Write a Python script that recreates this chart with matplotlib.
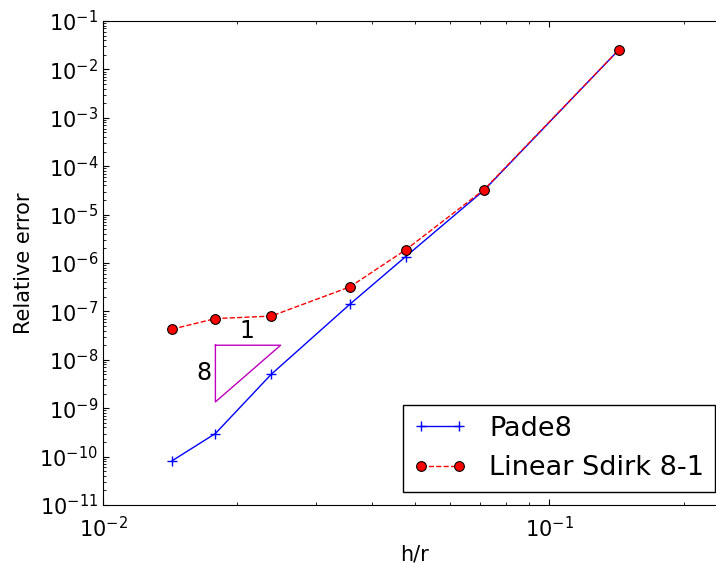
import numpy as np
import matplotlib
matplotlib.use("Agg")
import matplotlib.pyplot as plt
from matplotlib.ticker import LogLocator

# data
h_over_r = [1/70, 1/56, 1/42, 1/28, 1/21, 1/14, 1/7]
err_pade8 = [8.2e-11, 3.0e-10, 5.0e-9, 1.4e-7, 1.35e-6, 3.2e-5, 2.5e-2]
err_sdirk = [4.3e-8, 7.1e-8, 8.0e-8, 3.2e-7, 1.86e-6, 3.3e-5, 2.5e-2]

# slope triangle (order 8)
tri_x = [1/56, 0.025, 1/56, 1/56]
tri_y = [2e-8, 2e-8, 1.35e-9, 2e-8]

plt.rcParams['font.family'] = 'DejaVu Sans'
plt.rcParams['xtick.direction'] = 'in'
plt.rcParams['ytick.direction'] = 'in'
plt.rcParams['xtick.top'] = True
plt.rcParams['ytick.right'] = True
plt.rcParams['xtick.major.size'] = 4
plt.rcParams['ytick.major.size'] = 4
plt.rcParams['xtick.minor.size'] = 2
plt.rcParams['ytick.minor.size'] = 2

fig = plt.figure(figsize=(7.16, 5.63), dpi=100)
ax = fig.add_axes([103/716, 58/563, 624/716, 484/563])

ax.loglog(h_over_r, err_pade8, 'b-', marker='+', ms=7, mew=1, lw=1, label='Pade8')
ax.loglog(h_over_r, err_sdirk, 'r--', marker='o', ms=7, mfc='r', mec='k', mew=0.8,
          lw=1, label='Linear Sdirk 8-1')
ax.plot(tri_x, tri_y, color=(0.75, 0, 0.75), lw=1)
ax.text(0.021, 3.85e-8, '1', fontsize=17, ha='center', va='center')
ax.text(0.01685, 5.4e-9, '8', fontsize=17, ha='center', va='center')

ax.set_xlim(1e-2, 0.25)
ax.set_ylim(1e-11, 1e-1)
ax.yaxis.set_major_locator(LogLocator(base=10, numticks=20))
ax.yaxis.set_minor_locator(LogLocator(base=10, subs=np.arange(2, 10), numticks=20))
ax.set_xlabel('h/r', fontsize=15, labelpad=2)
ax.set_ylabel('Relative error', fontsize=15)
ax.tick_params(labelsize=15)
ax.tick_params(axis='x', pad=8)

leg = ax.legend(loc='lower right', fontsize=19.5, numpoints=2, fancybox=False,
                framealpha=1, edgecolor='k', handlelength=2.0, borderaxespad=0,
                bbox_to_anchor=(715/716, 71/563), bbox_transform=fig.transFigure)
leg.get_frame().set_linewidth(1)

fig.savefig('out.png', dpi=100, facecolor='white')
